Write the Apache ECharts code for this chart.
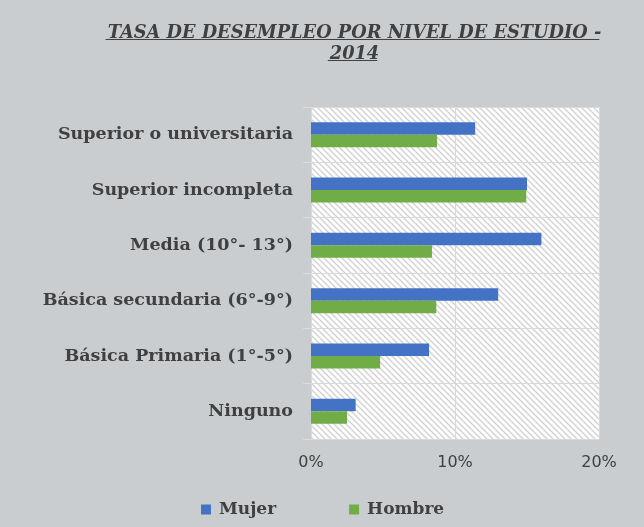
<!DOCTYPE html>
<html><head><meta charset="utf-8">
<script src="https://cdn.jsdelivr.net/npm/echarts@6/dist/echarts.min.js"></script>
<style>html,body{margin:0;padding:0;background:#cacdd0;}#c{width:644px;height:527px;}</style>
</head><body><div id="c"></div>
<script>
const categories = ["Ninguno", "Básica Primaria (1°-5°)", "Básica secundaria (6°-9°)", "Media (10°- 13°)", "Superior incompleta", "Superior o universitaria"];
const mujer = [3.1, 8.2, 13.0, 16.0, 15.0, 11.4];
const hombre = [2.5, 4.8, 8.7, 8.4, 14.95, 8.75];
const seriesNames = ["Mujer", "Hombre"];
const titleLine1 = "TASA DE DESEMPLEO POR NIVEL DE ESTUDIO -";
const titleLine2 = "2014";

// hatch pattern
const pc = document.createElement('canvas');
pc.width = 6; pc.height = 6;
const px = pc.getContext('2d');
px.fillStyle = '#ffffff'; px.fillRect(0,0,6,6);
px.strokeStyle = '#d0d0d0'; px.lineWidth = 1.3;
px.beginPath();
px.moveTo(-1,-1); px.lineTo(7,7);
px.moveTo(-4,2); px.lineTo(4,10);
px.moveTo(2,-4); px.lineTo(10,4);
px.stroke();

const titleSize = 17.8;
const mc = document.createElement('canvas').getContext('2d');
mc.font = 'italic bold ' + titleSize + 'px "DejaVu Serif"';
const w1 = mc.measureText(titleLine1).width;
const w2 = mc.measureText(titleLine2).width;
const cx = 352.5;

const chart = echarts.init(document.getElementById('c'));
chart.setOption({
  backgroundColor: '#cacdd0',
  animation: false,
  title: {
    text: titleLine1 + '\n' + titleLine2,
    left: cx - 3, top: 18, textAlign: 'center',
    textStyle: { fontFamily: 'DejaVu Serif', fontWeight: 'bold', fontStyle: 'italic', fontSize: titleSize, color: '#404040', lineHeight: 21 }
  },
  graphic: [
    { type: 'line', shape: { x1: cx - w1/2, y1: 39.5, x2: cx + w1/2, y2: 39.5 }, style: { stroke: '#404040', lineWidth: 1.2 } },
    { type: 'line', shape: { x1: cx - w2/2, y1: 60.5, x2: cx + w2/2, y2: 60.5 }, style: { stroke: '#404040', lineWidth: 1.2 } }
  ],
  legend: {
    data: seriesNames,
    left: 196, top: 496,
    icon: 'rect', itemWidth: 10, itemHeight: 10, itemGap: 73, textStyle: { fontFamily: 'DejaVu Serif', fontWeight: 'bold', fontSize: 17, color: '#404040', padding: [0, 0, 0, 3] }
  },
  grid: {
    left: 311, right: 45, top: 107, bottom: 88,
    show: true, borderWidth: 0,
    backgroundColor: { image: pc, repeat: 'repeat' }
  },
  xAxis: {
    type: 'value', min: 0, max: 20, interval: 10,
    axisLine: { show: false }, axisTick: { show: false },
    splitLine: { show: true, lineStyle: { color: '#d9d9d9', width: 1 } },
    axisLabel: { formatter: '{value}%', fontFamily: 'DejaVu Sans', fontSize: 16, color: '#404040', margin: 16 }
  },
  yAxis: {
    type: 'category', data: categories,
    axisLine: { show: false },
    axisTick: { show: true, length: 8, lineStyle: { color: '#dcdcdc' } },
    splitLine: { show: true, lineStyle: { color: '#d9d9d9', width: 1 } },
    axisLabel: { fontFamily: 'DejaVu Serif', fontWeight: 'bold', fontSize: 17.5, color: '#404040', margin: 18 }
  },
  series: [
    { name: seriesNames[0], type: 'bar', data: mujer, itemStyle: { color: '#4472c4' }, barWidth: 12.5, barGap: '0%', barCategoryGap: '55%' },
    { name: seriesNames[1], type: 'bar', data: hombre, itemStyle: { color: '#70ad47' }, barWidth: 12.5, barGap: '0%' }
  ]
});
</script></body></html>
